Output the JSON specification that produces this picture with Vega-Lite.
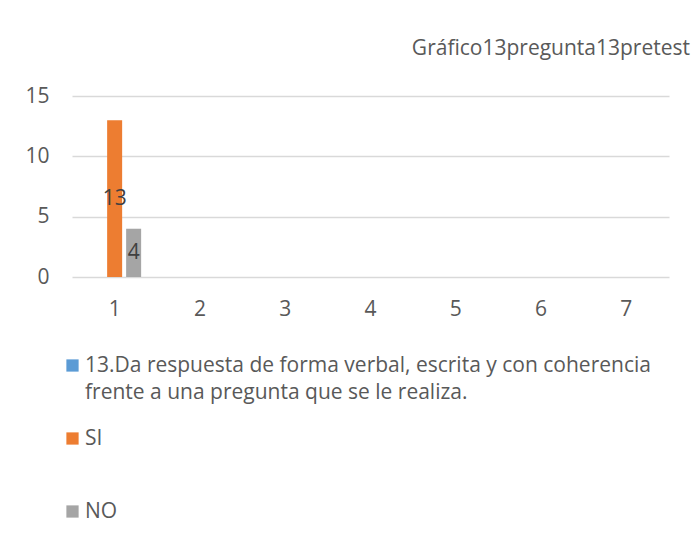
{
  "$schema": "https://vega.github.io/schema/vega-lite/v6.json",
  "autosize": {"type": "none"},
  "width": 597,
  "height": 181,
  "padding": {"left": 72, "top": 96, "right": 25, "bottom": 260},
  "background": "white",
  "title": {
    "text": "Gráfico13pregunta13pretest",
    "anchor": "end",
    "frame": "group",
    "offset": 26,
    "dx": 21,
    "font": "Open Sans",
    "fontSize": 21,
    "fontWeight": "normal",
    "color": "#595959"
  },
  "data": {
    "values": [
      {"cat": "1", "serie": "SI", "valor": 13},
      {"cat": "1", "serie": "NO", "valor": 4}
    ]
  },
  "encoding": {
    "x": {
      "field": "cat",
      "type": "nominal",
      "scale": {"domain": ["1", "2", "3", "4", "5", "6", "7"], "paddingInner": 0, "paddingOuter": 0},
      "axis": {"title": null, "labelAngle": 0, "ticks": false, "domain": false, "labelPadding": 21, "labelFont": "Open Sans", "labelFontSize": 21, "labelColor": "#595959", "grid": false}
    },
    "xOffset": {
      "field": "serie",
      "type": "nominal",
      "scale": {"domain": ["13.Da respuesta de forma verbal, escrita y con coherencia frente a una pregunta que se le realiza.", "SI", "NO"], "paddingInner": 0.21, "paddingOuter": 0.85}
    }
  },
  "layer": [
    {
      "mark": {"type": "bar"},
      "encoding": {
        "y": {
          "field": "valor",
          "type": "quantitative",
          "scale": {"domain": [0, 15]},
          "axis": {"title": null, "values": [0, 5, 10, 15], "ticks": false, "domain": false, "labelPadding": 23, "labelFont": "Open Sans", "labelFontSize": 21, "labelColor": "#595959", "gridColor": "#d9d9d9", "gridWidth": 1.3}
        },
        "color": {
          "field": "serie",
          "type": "nominal",
          "scale": {
            "domain": ["13.Da respuesta de forma verbal, escrita y con coherencia frente a una pregunta que se le realiza.", "SI", "NO"],
            "range": ["#5b9bd5", "#ed7d31", "#a5a5a5"]
          },
          "legend": {
            "title": null,
            "orient": "none",
            "legendX": -10,
            "legendY": 259,
            "direction": "vertical",
            "symbolType": "square",
            "symbolSize": 150,
            "symbolStrokeWidth": 0,
            "symbolOpacity": 1,
            "labelFont": "Open Sans",
            "labelFontSize": 21,
            "labelColor": "#595959",
            "labelLimit": 700,
            "labelOffset": 2,
            "labelBaseline": "middle",
            "rowPadding": 24,
            "labelExpr": "datum.label == 'SI' ? ['SI', ''] : datum.label == 'NO' ? ['NO', ''] : ['13.Da respuesta de forma verbal, escrita y con coherencia', 'frente a una pregunta que se le realiza.']"
          }
        }
      }
    },
    {
      "mark": {"type": "text", "font": "Open Sans", "fontSize": 21, "color": "#404040", "baseline": "middle"},
      "encoding": {
        "y": {"field": "valor", "type": "quantitative", "scale": {"domain": [0, 30]}, "axis": null},
        "text": {"field": "valor", "type": "quantitative"}
      }
    }
  ],
  "resolve": {"scale": {"y": "independent"}},
  "config": {
    "view": {"stroke": null},
    "style": {"guide-label": {"lineHeight": 27}}
  }
}
